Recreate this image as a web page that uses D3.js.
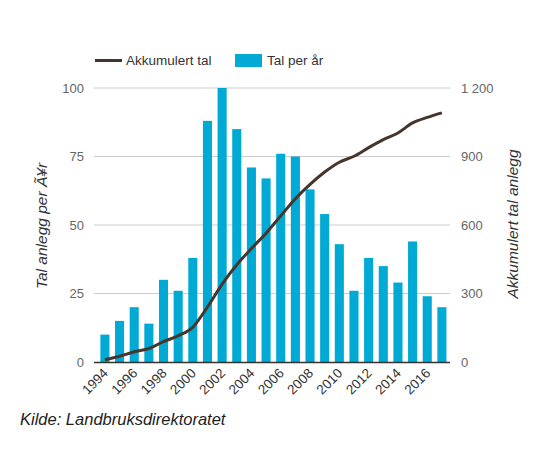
<!DOCTYPE html>
<html>
<head>
<meta charset="utf-8">
<script src="https://cdn.jsdelivr.net/npm/d3@7"></script>
<style>
  html, body { margin: 0; padding: 0; background: #fff; }
  svg { display: block; font-family: "Liberation Sans", Arial, sans-serif; }
</style>
</head>
<body>
<svg id="chart" width="540" height="451"></svg>
<script>
const years = [1994,1995,1996,1997,1998,1999,2000,2001,2002,2003,2004,2005,2006,2007,2008,2009,2010,2011,2012,2013,2014,2015,2016,2017];
const perYear = [10,15,20,14,30,26,38,88,100,85,71,67,76,75,63,54,43,26,38,35,29,44,24,20];
const cumulative = [10,25,45,59,89,115,153,241,341,426,497,564,640,715,778,832,875,901,939,974,1003,1047,1071,1091];
const leftTicks = [0,25,50,75,100];
const rightTicks = [0,300,600,900,1200];
const xLabelYears = [1994,1996,1998,2000,2002,2004,2006,2008,2010,2012,2014,2016];

const svg = d3.select("#chart");
const x0 = 94.8, x1 = 452, yBottom = 362, yTop = 88;

const x = d3.scaleBand().domain(years).range([x0, x1]).paddingInner(0.38).paddingOuter(0.38);
const yL = d3.scaleLinear().domain([0, 100]).range([yBottom, yTop]);
const yR = d3.scaleLinear().domain([0, 1200]).range([yBottom, yTop]);

// gridlines
svg.append("g").selectAll("line").data(leftTicks.filter(d => d > 0)).join("line")
  .attr("x1", 94).attr("x2", 450)
  .attr("y1", d => yL(d)).attr("y2", d => yL(d))
  .attr("stroke", "#cccccc").attr("stroke-width", 1);

// left tick labels
const leftAxis = d3.axisLeft(yL).tickValues(leftTicks).tickSize(0).tickPadding(0);
const gl = svg.append("g").attr("transform", "translate(84,0)").call(leftAxis);
gl.select(".domain").remove();
gl.selectAll("text").attr("font-size", 13).attr("fill", "#666").attr("font-family", "Liberation Sans, Arial, sans-serif");

// right tick labels
const rightAxis = d3.axisRight(yR).tickValues(rightTicks).tickSize(0).tickPadding(0)
  .tickFormat(d => d >= 1000 ? d3.format(",")(d).replace(",", " ") : d);
const gr = svg.append("g").attr("transform", "translate(461,0)").call(rightAxis);
gr.select(".domain").remove();
gr.selectAll("text").attr("font-size", 13).attr("fill", "#666").attr("font-family", "Liberation Sans, Arial, sans-serif");

// bars
svg.append("g").selectAll("rect").data(years).join("rect")
  .attr("x", d => x(d))
  .attr("width", x.bandwidth())
  .attr("y", (d, i) => yL(perYear[i]))
  .attr("height", (d, i) => yBottom - yL(perYear[i]))
  .attr("fill", "#00aad4");

// baseline
svg.append("line").attr("x1", 94).attr("x2", 450).attr("y1", yBottom + 0.5).attr("y2", yBottom + 0.5)
  .attr("stroke", "#333").attr("stroke-width", 1.5);

// cumulative line
const line = d3.line()
  .x((d, i) => x(years[i]) + x.bandwidth() / 2)
  .y(d => yR(d))
  .curve(d3.curveMonotoneX);
svg.append("path").datum(cumulative)
  .attr("d", line).attr("fill", "none")
  .attr("stroke", "#45352c").attr("stroke-width", 3);

// x labels
svg.append("g").selectAll("text").data(xLabelYears).join("text")
  .attr("transform", d => `translate(${x(d) + x.bandwidth() / 2 + 4},${yBottom + 12}) rotate(-45)`)
  .attr("text-anchor", "end")
  .attr("font-size", 13.5).attr("fill", "#333")
  .text(d => d);

// axis titles
svg.append("text")
  .attr("transform", "translate(47,226) rotate(-90)")
  .attr("text-anchor", "middle").attr("font-style", "italic")
  .attr("font-size", 15.5).attr("fill", "#333")
  .text("Tal anlegg per Ã¥r");
svg.append("text")
  .attr("transform", "translate(518,224) rotate(-90)")
  .attr("text-anchor", "middle").attr("font-style", "italic")
  .attr("font-size", 15.5).attr("fill", "#333")
  .text("Akkumulert tal anlegg");

// legend
const lg = svg.append("g");
lg.append("line").attr("x1", 95).attr("x2", 122).attr("y1", 60.5).attr("y2", 60.5)
  .attr("stroke", "#45352c").attr("stroke-width", 3);
lg.append("text").attr("x", 126).attr("y", 65).attr("font-size", 13.5).attr("fill", "#333").text("Akkumulert tal");
lg.append("rect").attr("x", 235).attr("y", 54).attr("width", 27).attr("height", 13).attr("fill", "#00aad4");
lg.append("text").attr("x", 267).attr("y", 65).attr("font-size", 13.5).attr("fill", "#333").text("Tal per år");

// source
svg.append("text").attr("x", 20).attr("y", 425)
  .attr("font-style", "italic").attr("font-size", 16.5).attr("fill", "#222")
  .text("Kilde: Landbruksdirektoratet");
</script>
</body>
</html>
